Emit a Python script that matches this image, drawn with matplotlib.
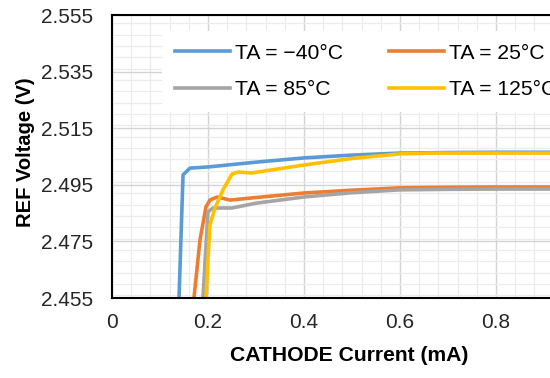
import matplotlib
matplotlib.use("Agg")
import matplotlib.pyplot as plt
from matplotlib.ticker import MultipleLocator

plt.rcParams['font.family'] = ['Liberation Sans', 'DejaVu Sans']

labels = ["TA = −40°C", "TA = 25°C", "TA = 85°C", "TA = 125°C"]
colors = ["#5B9BD5", "#ED7D31", "#A5A5A5", "#FFC000"]

x_m40 = [0.1396, 0.148, 0.1625, 0.20, 0.30, 0.40, 0.50, 0.598, 0.70, 0.80, 0.95]
y_m40 = [2.455, 2.4985, 2.5009, 2.5013, 2.5030, 2.5045, 2.5055, 2.5062, 2.5064, 2.5065, 2.5065]

x_25 = [0.1708, 0.1833, 0.1958, 0.204, 0.219, 0.246, 0.30, 0.40, 0.50, 0.598, 0.70, 0.80, 0.95]
y_25 = [2.455, 2.4755, 2.4872, 2.4896, 2.4907, 2.4896, 2.4905, 2.4921, 2.4931, 2.4939, 2.4941, 2.4942, 2.4942]

x_85 = [0.1896, 0.194, 0.200, 0.2104, 0.25, 0.30, 0.40, 0.50, 0.598, 0.70, 0.80, 0.95]
y_85 = [2.455, 2.4684, 2.4854, 2.4868, 2.4868, 2.4885, 2.4907, 2.4922, 2.4932, 2.4934, 2.4935, 2.4935]

x_125 = [0.1958, 0.200, 0.204, 0.2146, 0.2313, 0.25, 0.2625, 0.2917, 0.40, 0.50, 0.598, 0.6625, 0.80, 0.95]
y_125 = [2.455, 2.4684, 2.4808, 2.4868, 2.4932, 2.4988, 2.4995, 2.4992, 2.5020, 2.5043, 2.5059, 2.5062, 2.5062, 2.5062]

yticks = [2.455, 2.475, 2.495, 2.515, 2.535, 2.555]
ytick_labels = ["2.455", "2.475", "2.495", "2.515", "2.535", "2.555"]
xticks = [0, 0.2, 0.4, 0.6, 0.8]
xtick_labels = ["0", "0.2", "0.4", "0.6", "0.8"]

fig = plt.figure(figsize=(5.5, 3.78), dpi=100)
ax = fig.add_axes([112/550, 80/378, 438/550, 283/378])

series = [(x_m40, y_m40), (x_25, y_25), (x_85, y_85), (x_125, y_125)]
handles = []
for (xs, ys), c, lab in zip(series, colors, labels):
    h, = ax.plot(xs, ys, color=c, lw=2.6, label=lab, solid_joinstyle='round')
    handles.append(h)

ax.set_xlim(0, 438/480)
ax.set_ylim(2.455, 2.555)
ax.xaxis.set_minor_locator(MultipleLocator(0.04))
ax.yaxis.set_minor_locator(MultipleLocator(0.004))
ax.set_yticks(yticks)
ax.set_yticklabels(ytick_labels)
ax.set_xticks(xticks)
ax.set_xticklabels(xtick_labels)
ax.grid(which='major', color='#d4d4d4', lw=1.0)
ax.grid(which='minor', color='#ececec', lw=0.9)
ax.set_axisbelow(True)
ax.tick_params(which='both', length=0, labelsize=15, colors='#262626')
ax.tick_params(axis='y', pad=13.5)
ax.tick_params(axis='x', pad=11)
for s in ['left', 'bottom', 'top']:
    ax.spines[s].set_color('black')
    ax.spines[s].set_linewidth(1.5)
ax.spines['right'].set_visible(False)

ax.set_xlabel("CATHODE Current (mA)", fontsize=15.2, fontweight='bold')
ax.xaxis.set_label_coords((349-112)/438, -0.17)
ax.set_ylabel("REF Voltage (V)", fontsize=14.5, fontweight='bold')
ax.yaxis.set_label_coords((35-112)/438, 0.516)

order = [0, 2, 1, 3]
leg = ax.legend([handles[i] for i in order], [labels[i] for i in order],
                ncol=2, loc='upper left', bbox_to_anchor=((162-112)/438, (298-31)/283),
                borderaxespad=0,
                fontsize=15.2, frameon=True, fancybox=False, edgecolor='none',
                facecolor='white', framealpha=1, handlelength=2.6, handletextpad=0.25,
                labelspacing=0.82, columnspacing=2.2, borderpad=0.6)
leg.get_frame().set_linewidth(0)

fig.savefig("out.png", dpi=100)
